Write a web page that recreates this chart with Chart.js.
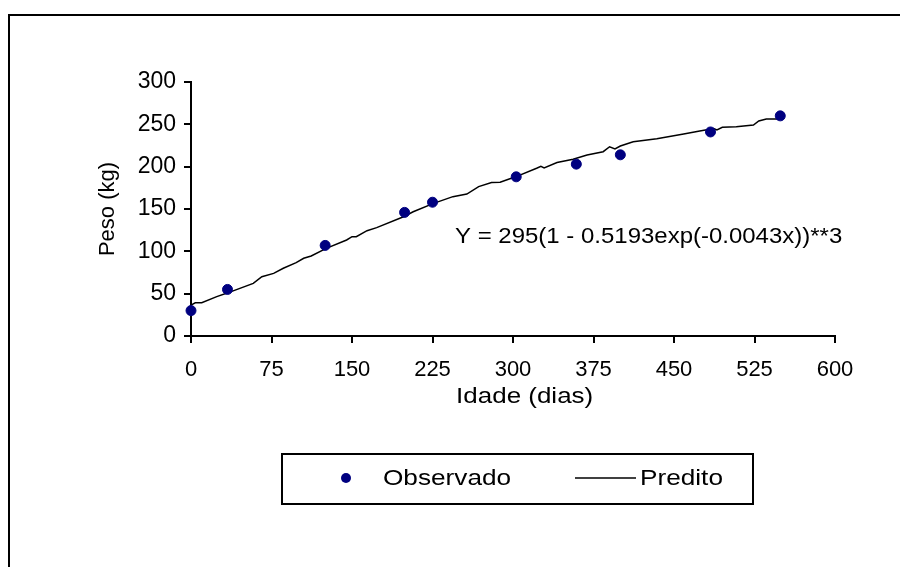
<!DOCTYPE html>
<html>
<head>
<meta charset="utf-8">
<script src="https://cdn.jsdelivr.net/npm/chart.js@4.4.0/dist/chart.umd.min.js"></script>
<style>
  html, body { margin: 0; padding: 0; background: #fff; }
  #wrap { width: 900px; height: 567px; }
</style>
</head>
<body>
<div id="wrap"><canvas id="myChart" width="900" height="567"></canvas></div>
<script>
// pesos observados (kg) por idade (dias)
const idadeObs = [0, 34, 125, 199, 225, 303, 359, 400, 484, 549];
const pesoObs = [30, 55, 107, 146, 158, 188, 203, 214, 241, 260];

// curva predita (tem pequenos "degraus")
const idadePred = [0, 4, 10, 24, 33, 58, 66, 77, 86, 98, 105, 112, 126, 145, 150, 154, 164, 173, 198, 207,
    226, 244, 257, 268, 280, 288, 303, 322, 326, 329, 341, 356, 369, 384, 390, 395, 400, 412, 434, 459,
    474, 487, 490, 495, 508, 524, 529, 536, 549];
const pesoPred = [36.6, 39.3, 39.3, 46.5, 50.4, 62.2, 70, 74, 80, 86.6, 91.8, 94.5, 103.5, 113.4, 117.3, 117.3, 124.4, 128, 140.9, 146.8,
    156.7, 164.6, 167.7, 176.4, 181.2, 181.6, 188.3, 198.2, 200.5, 198.5, 204.9, 208.8, 213.8, 217.7, 223.5, 221, 224.4, 229.5, 233, 238.6,
    242.1, 245, 243.5, 246.5, 247.2, 249.2, 254, 256.3, 256.3];

const xTicks = [0, 75, 150, 225, 300, 375, 450, 525, 600];
const yTicks = [0, 50, 100, 150, 200, 250, 300];
const equacao = 'Y = 295(1 - 0.5193exp(-0.0043x))**3';

const familia = '"Liberation Sans", Arial, sans-serif';
const fonte = { family: familia, size: 22 };

// texto um pouco "esticado" na horizontal, como no original
function textoLargo(ctx, txt, x, y, sx) {
    ctx.save();
    ctx.translate(x, y);
    ctx.scale(sx, 1);
    ctx.fillText(txt, 0, 0);
    ctx.restore();
}

// moldura, equacao e legenda desenhadas a mao
const extras = {
    id: 'extras',
    afterDraw(chart) {
        const ctx = chart.ctx;
        ctx.save();
        ctx.strokeStyle = '#000';
        ctx.lineWidth = 2;
        ctx.strokeRect(9, 15, 920, 600);

        ctx.fillStyle = '#000';
        ctx.font = '22px ' + familia;
        ctx.textBaseline = 'middle';
        ctx.textAlign = 'left';
        textoLargo(ctx, equacao, 455, 237, 1.09);

        // legenda
        ctx.strokeRect(282, 454, 471, 50);
        const ds = chart.data.datasets;
        ctx.fillStyle = ds[0].backgroundColor;
        ctx.beginPath();
        ctx.arc(346, 478, 5, 0, Math.PI * 2);
        ctx.fill();
        ctx.fillStyle = '#000';
        textoLargo(ctx, ds[0].label, 383, 479, 1.19);

        ctx.strokeStyle = ds[1].borderColor;
        ctx.lineWidth = 1.5;
        ctx.beginPath();
        ctx.moveTo(575, 478);
        ctx.lineTo(636, 478);
        ctx.stroke();
        textoLargo(ctx, ds[1].label, 640, 479, 1.19);

        // titulo do eixo x
        const xs = chart.scales.x;
        textoLargo(ctx, 'Idade (dias)', xs.getPixelForValue(247), 397, 1.18);
        ctx.restore();
    }
};

const ctx = document.getElementById('myChart').getContext('2d');
const myChart = new Chart(ctx, {
    type: 'scatter',
    data: {
        datasets: [
            {
                label: 'Observado',
                data: idadeObs.map((x, i) => ({ x: x, y: pesoObs[i] })),
                backgroundColor: '#000080',
                borderColor: '#000080',
                pointRadius: 5,
                pointHoverRadius: 5,
                showLine: false,
                clip: false,
            },
            {
                label: 'Predito',
                data: idadePred.map((x, i) => ({ x: x, y: pesoPred[i] })),
                borderColor: '#000',
                borderWidth: 1.5,
                pointRadius: 0,
                showLine: true,
                tension: 0,
            }
        ]
    },
    options: {
        responsive: false,
        animation: false,
        layout: { padding: { left: 0, top: 82, right: 65, bottom: 156 } },
        plugins: {
            legend: { display: false },
            tooltip: { enabled: false },
        },
        scales: {
            x: {
                type: 'linear',
                min: 0,
                max: 600,
                afterBuildTicks: s => { s.ticks = xTicks.map(v => ({ value: v })); },
                afterFit: s => { s.height = 75; },
                grid: { drawOnChartArea: false, drawTicks: true, tickLength: 7, color: '#000', lineWidth: 2 },
                border: { color: '#000', width: 2 },
                ticks: { color: '#000', font: fonte, padding: 14, maxRotation: 0 },
                title: { display: false }
            },
            y: {
                type: 'linear',
                min: 0,
                max: 300,
                afterBuildTicks: s => { s.ticks = yTicks.map(v => ({ value: v })); },
                afterFit: s => { s.width = 191; },
                grid: { drawOnChartArea: false, drawTicks: true, tickLength: 7, color: '#000', lineWidth: 2 },
                border: { color: '#000', width: 2 },
                ticks: { color: '#000', font: { family: familia, size: 23 }, padding: 8 },
                title: { display: true, text: 'Peso (kg)', color: '#000', font: fonte, padding: { top: 95, bottom: 0 } }
            }
        }
    },
    plugins: [extras]
});
</script>
</body>
</html>
